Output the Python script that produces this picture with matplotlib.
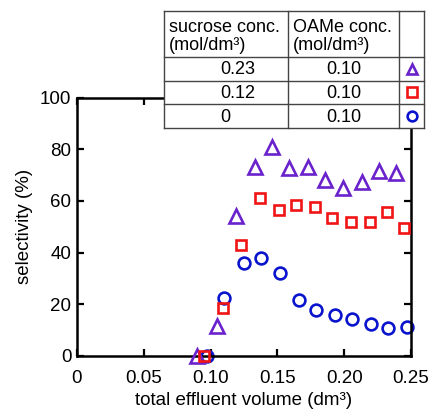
import matplotlib
matplotlib.use("Agg")
import matplotlib.pyplot as plt
from matplotlib.patches import Rectangle

plt.rcParams['font.family'] = ['Liberation Sans', 'DejaVu Sans']

# data
tri_x = [0.090, 0.105, 0.119, 0.133, 0.146, 0.159, 0.173, 0.186, 0.199, 0.213, 0.226, 0.239]
tri_y = [0.0, 11.6, 54.3, 73.2, 81.0, 72.6, 73.2, 68.1, 64.9, 67.4, 71.7, 70.7]
sq_x = [0.095, 0.109, 0.123, 0.137, 0.151, 0.164, 0.178, 0.191, 0.205, 0.219, 0.232, 0.245]
sq_y = [0.0, 18.4, 42.9, 61.2, 56.3, 58.3, 57.6, 53.4, 52.0, 52.0, 55.7, 49.5]
ci_x = [0.097, 0.110, 0.125, 0.138, 0.152, 0.166, 0.179, 0.193, 0.206, 0.220, 0.233, 0.247]
ci_y = [0.0, 22.3, 36.1, 37.9, 32.0, 21.7, 17.7, 15.7, 14.3, 12.3, 11.0, 11.1]

xticks = [0, 0.05, 0.10, 0.15, 0.20, 0.25]
xticklabels = ['0', '0.05', '0.10', '0.15', '0.20', '0.25']
yticks = [0, 20, 40, 60, 80, 100]

header = ['sucrose conc.\n(mol/dm\u00b3)', 'OAMe conc.\n(mol/dm\u00b3)']
sucrose = ['0.23', '0.12', '0']
oame = ['0.10', '0.10', '0.10']

c_tri = '#6a22cc'
c_sq = '#f01414'
c_ci = '#0a14cc'

W, H = 434, 417
fig = plt.figure(figsize=(W / 100, H / 100), dpi=100)
ax = fig.add_axes([77 / W, (H - 356) / H, (411 - 77) / W, (356 - 97.5) / H])

mew = 1.9
ax.plot(tri_x, tri_y, ls='none', marker='^', ms=10, mfc='none', mec=c_tri, mew=mew, clip_on=False, zorder=3)
ax.plot(sq_x, sq_y, ls='none', marker='s', ms=7.5, mfc='none', mec=c_sq, mew=mew, clip_on=False, zorder=4)
ax.plot(ci_x, ci_y, ls='none', marker='o', ms=8.5, mfc='none', mec=c_ci, mew=mew, clip_on=False, zorder=2)

ax.set_xlim(0, 0.25)
ax.set_ylim(0, 100)
ax.set_xticks(xticks)
ax.set_xticklabels(xticklabels)
ax.set_yticks(yticks)
for s in ax.spines.values():
    s.set_linewidth(1.8)
ax.tick_params(direction='in', length=5, width=1.6, top=True, right=True, labelsize=13.5)
ax.tick_params(axis='x', pad=10)
ax.tick_params(axis='y', pad=4)
ax.set_xlabel('total effluent volume (dm\u00b3)', fontsize=13.5, labelpad=4)
ax.set_ylabel('selectivity (%)', fontsize=13.5, labelpad=5)

# table overlay
tab = fig.add_axes([0, 0, 1, 1], zorder=10)
tab.set_xlim(0, W)
tab.set_ylim(H, 0)
tab.axis('off')
x0, x1, x2, x3 = 164, 288, 399, 424
ys = [11, 57, 80.5, 104, 128]
tab.add_patch(Rectangle((x0, ys[0]), x3 - x0, ys[-1] - ys[0], facecolor='white', edgecolor='none'))
lc = '#444444'
lw = 1.0
for y in ys:
    tab.plot([x0, x3], [y, y], color=lc, lw=lw)
for x in [x0, x1, x2, x3]:
    tab.plot([x, x], [ys[0], ys[-1]], color=lc, lw=lw)
fs = 13
tab.text(x0 + 5, (ys[0] + ys[1]) / 2 + 2.5, header[0], ha='left', va='center', fontsize=fs, linespacing=1.1)
tab.text(x1 + 5, (ys[0] + ys[1]) / 2 + 2.5, header[1], ha='left', va='center', fontsize=fs, linespacing=1.1)
mk = [('^', c_tri, 7.5), ('s', c_sq, 6.5), ('o', c_ci, 7)]
for i in range(3):
    yc = (ys[i + 1] + ys[i + 2]) / 2
    tab.text(220, yc + 1, sucrose[i], ha='left', va='center', fontsize=fs)
    tab.text((x1 + x2) / 2, yc + 1, oame[i], ha='center', va='center', fontsize=fs)
    m, c, ms = mk[i]
    tab.plot([(x2 + x3) / 2], [yc], marker=m, ms=ms, mfc='none', mec=c, mew=1.9, ls='none')

fig.savefig('out.png', dpi=100)
